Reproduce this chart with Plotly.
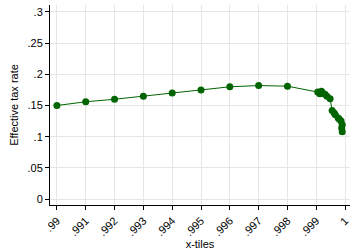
import plotly.graph_objects as go

x_vals = [0.990, 0.991, 0.992, 0.993, 0.994, 0.995, 0.996, 0.997, 0.998,
          0.99905, 0.99912, 0.99918, 0.99922, 0.9993, 0.99937, 0.99948,
          0.99955, 0.99962, 0.99966, 0.99976, 0.9998, 0.99986, 0.9999, 0.99988, 0.9999]
tax_rate = [0.150, 0.156, 0.160, 0.165, 0.170, 0.175, 0.180, 0.182, 0.181,
            0.1715, 0.169, 0.173, 0.170, 0.168, 0.165, 0.161,
            0.142, 0.138, 0.135, 0.130, 0.128, 0.125, 0.119, 0.114, 0.108]

x_ticks = [0.990, 0.991, 0.992, 0.993, 0.994, 0.995, 0.996, 0.997, 0.998, 0.999, 1.0]
x_labels = [".99", ".991", ".992", ".993", ".994", ".995", ".996", ".997", ".998", ".999", "1"]
y_ticks = [0, 0.05, 0.1, 0.15, 0.2, 0.25, 0.3]
y_labels = ["0", ".05", ".1", ".15", ".2", ".25", ".3"]

green = "#006400"

fig = go.Figure()
fig.add_trace(go.Scatter(
    x=x_vals, y=tax_rate, mode="lines+markers",
    line=dict(color=green, width=1),
    marker=dict(color=green, size=7),
    showlegend=False, cliponaxis=False,
))

fig.update_layout(
    width=351, height=250,
    margin=dict(l=50, r=1, t=5, b=45, autoexpand=False),
    paper_bgcolor="white", plot_bgcolor="white",
    font=dict(family="Liberation Sans, Arial, sans-serif", size=11, color="black"),
)
fig.update_xaxes(
    range=[0.98976, 1.00017], automargin=False,
    tickvals=x_ticks, ticktext=x_labels, tickangle=-45,
    showgrid=True, gridcolor="#e6e6e6", gridwidth=1,
    showline=True, linecolor="black", linewidth=1,
    ticks="outside", ticklen=4, tickcolor="black",
    zeroline=False,
    title=dict(text="x-tiles", font=dict(size=11), standoff=1),
)
fig.update_yaxes(
    range=[-0.0096, 0.3112], automargin=False,
    tickvals=y_ticks, ticktext=y_labels,
    showgrid=True, gridcolor="#e6e6e6", gridwidth=1,
    showline=True, linecolor="black", linewidth=1,
    ticks="outside", ticklen=4, tickcolor="black",
    zeroline=False,
    title=dict(text="Effective tax rate", font=dict(size=11), standoff=6),
)

fig.write_html(
    "out.html",
    config={"displayModeBar": False},
    post_script="document.body.style.margin='0';document.body.style.overflow='hidden';",
)
